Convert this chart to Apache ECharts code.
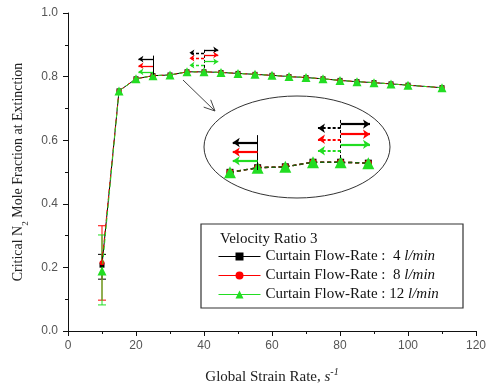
<!DOCTYPE html>
<html>
<head>
<meta charset="utf-8">
<script src="https://cdn.jsdelivr.net/npm/echarts@6/dist/echarts.min.js"></script>
<style>html,body{margin:0;padding:0;background:#fff}#c{width:488px;height:385px}</style>
</head>
<body>
<div id="c"></div>
<script>
// ---- data ----
const xVals  = [10, 15, 20, 25, 30, 35, 40, 45, 50, 55, 60, 65, 70, 75, 80, 85, 90, 95, 100, 110];
const yBlack = [0.207, 0.755, 0.793, 0.803, 0.805, 0.815, 0.815, 0.813, 0.810, 0.807, 0.804, 0.800, 0.797, 0.793, 0.788, 0.784, 0.781, 0.777, 0.773, 0.765];
const yRed   = [0.215, 0.755, 0.793, 0.803, 0.805, 0.815, 0.815, 0.813, 0.810, 0.807, 0.804, 0.800, 0.797, 0.793, 0.788, 0.784, 0.781, 0.777, 0.773, 0.765];
const yGreen = [0.189, 0.755, 0.793, 0.803, 0.805, 0.815, 0.815, 0.813, 0.810, 0.807, 0.804, 0.800, 0.797, 0.793, 0.788, 0.784, 0.781, 0.777, 0.773, 0.765];
// error bars at x = 10: [x, low, high]
const errBlack = [[10, 0.163, 0.241]];
const errRed   = [[10, 0.097, 0.331]];
const errGreen = [[10, 0.082, 0.302]];
const seriesNames = ['Curtain Flow-Rate :  4 l/min', 'Curtain Flow-Rate :  8 l/min', 'Curtain Flow-Rate : 12 l/min'];
const legendTitle = 'Velocity Ratio 3';
const xTicks = [0, 20, 40, 60, 80, 100, 120];
const yTicks = [0.0, 0.2, 0.4, 0.6, 0.8, 1.0];
// inset range (magnified portion)
const insetFrom = 20, insetTo = 45;
// annotation arrows (data units) : main chart
const mainLeft  = {x: 25, vTop: 0.866, vBottom: 0.806, ys: [0.855, 0.834, 0.815], toX: 20.7};
const mainRight = {x: 40, vTop: 0.884, vBottom: 0.821, rightYs: [0.884, 0.868, 0.847], rightTo: 44.2, leftYs: [0.875, 0.858, 0.836], leftTo: 35.7};
// annotation arrows (data units) : inset
const insLeft  = {x: 25, vTop: 0.874, vBottom: 0.798, ys: [0.858, 0.837, 0.818], toX: 20.5};
const insRight = {x: 40, vTop: 0.907, vBottom: 0.820, rightYs: [0.898, 0.876, 0.854], rightTo: 45.3, leftYs: [0.889, 0.865, 0.840], leftTo: 35.9};

const COLORS = ['#000000', '#ff0000', '#22dd22'];
const SERIF = 'Liberation Serif';
const SANS = 'Liberation Sans';

function pairs(ys) { return xVals.map((x, i) => [x, ys[i]]); }
function insetPairs(ys) { return pairs(ys).filter(p => p[0] >= insetFrom && p[0] <= insetTo); }

function arrowLine(x0, y, x1, color, dashed, width, size) {
  return [
    {coord: [x0, y], symbol: 'none', lineStyle: {color: color, type: dashed ? [3, 2] : 'solid', width: width}},
    {coord: [x1, y], symbol: 'arrow', symbolSize: size}
  ];
}
function vline(x, y0, y1, dashed, width) {
  return [
    {coord: [x, y0], symbol: 'none', lineStyle: {color: '#000', type: dashed ? [3, 2] : 'solid', width: width}},
    {coord: [x, y1], symbol: 'none'}
  ];
}
function annoData(L, R, w, size) {
  const d = [];
  d.push(vline(L.x, L.vTop, L.vBottom, false, 1));
  L.ys.forEach((y, i) => d.push(arrowLine(L.x, y, L.toX, COLORS[i], false, w, size)));
  d.push(vline(R.x, R.vTop, R.vBottom, true, 1));
  R.rightYs.forEach((y, i) => d.push(arrowLine(R.x, y, R.rightTo, COLORS[i], false, w, size)));
  R.leftYs.forEach((y, i) => d.push(arrowLine(R.x, y, R.leftTo, COLORS[i], true, w, size)));
  return d;
}

function errSeries(data, color) {
  return {
    type: 'custom', xAxisIndex: 0, yAxisIndex: 0, silent: true, z: 1,
    data: data,
    renderItem: function (params, api) {
      const x = api.value(0), lo = api.value(1), hi = api.value(2);
      const p1 = api.coord([x, hi]), p2 = api.coord([x, lo]);
      const hw = 4;
      const st = {stroke: color, lineWidth: 1};
      return {type: 'group', children: [
        {type: 'line', shape: {x1: p1[0], y1: p1[1], x2: p2[0], y2: p2[1]}, style: st},
        {type: 'line', shape: {x1: p1[0] - hw, y1: p1[1], x2: p1[0] + hw, y2: p1[1]}, style: st},
        {type: 'line', shape: {x1: p2[0] - hw, y1: p2[1], x2: p2[0] + hw, y2: p2[1]}, style: st}
      ]};
    }
  };
}

const symbols = ['rect', 'circle', 'triangle'];
const sizes = [5, 5, 9];
const insetSizes = [7, 7, 12];
const ys = [yBlack, yRed, yGreen];
const series = [];
[errBlack, errRed, errGreen].forEach((e, i) => series.push(errSeries(e, COLORS[i])));
for (let i = 0; i < 3; i++) {
  series.push({
    name: seriesNames[i], type: 'line', xAxisIndex: 0, yAxisIndex: 0,
    data: pairs(ys[i]), symbol: symbols[i], symbolSize: sizes[i],
    itemStyle: {color: COLORS[i]},
    lineStyle: {color: COLORS[i], width: 1, type: i === 0 ? 'solid' : [4, 3]},
    z: 2 + i
  });
}
for (let i = 0; i < 3; i++) {
  series.push({
    name: seriesNames[i], type: 'line', xAxisIndex: 1, yAxisIndex: 1,
    data: insetPairs(ys[i]), symbol: symbols[i], symbolSize: insetSizes[i],
    itemStyle: {color: COLORS[i]},
    lineStyle: {color: i === 2 ? '#116611' : COLORS[i], width: 1.5, type: [4, 3]},
    z: 2 + i
  });
}
// annotation carriers
series.push({
  type: 'line', xAxisIndex: 0, yAxisIndex: 0, data: [], silent: true,
  markLine: {silent: true, animation: false, symbol: ['none', 'none'], label: {show: false},
    emphasis: {disabled: true}, data: annoData(mainLeft, mainRight, 1.3, [5, 5])}
});
series.push({
  type: 'line', xAxisIndex: 1, yAxisIndex: 1, data: [], silent: true,
  markLine: {silent: true, animation: false, symbol: ['none', 'none'], label: {show: false},
    emphasis: {disabled: true}, data: annoData(insLeft, insRight, 2.2, [7, 7])}
});

const chart = echarts.init(document.getElementById('c'), null, {renderer: 'canvas'});
chart.setOption({
  animation: false,
  backgroundColor: '#fff',
  textStyle: {fontFamily: SERIF},
  grid: [
    {left: 68, right: 12, top: 13, bottom: 54, containLabel: false, outerBoundsMode: 'none'},
    {left: 202.3, top: 118.6, width: 193.7, height: 59.7, containLabel: false, outerBoundsMode: 'none'}
  ],
  xAxis: [
    {type: 'value', gridIndex: 0, min: xTicks[0], max: xTicks[xTicks.length - 1], interval: xTicks[1] - xTicks[0],
      name: '{a|Global Strain Rate, }{s|s}{sup|-1}', nameLocation: 'middle', nameGap: 36,
      nameTextStyle: {rich: {
        a: {fontFamily: SERIF, fontSize: 15, color: '#222', lineHeight: 18, verticalAlign: 'bottom'},
        s: {fontFamily: SERIF, fontSize: 15, fontStyle: 'italic', color: '#222', lineHeight: 18, verticalAlign: 'bottom'},
        sup: {fontFamily: SERIF, fontSize: 10, fontStyle: 'italic', color: '#222', lineHeight: 18, verticalAlign: 'top'}
      }},
      axisLine: {show: true, onZero: false, lineStyle: {color: '#111', width: 1}},
      axisTick: {show: true, inside: false, length: 5, lineStyle: {color: '#111'}},
      minorTick: {show: true, splitNumber: 2, length: 3, lineStyle: {color: '#111'}},
      splitLine: {show: false},
      axisLabel: {fontFamily: SANS, fontSize: 12, color: '#555', margin: 9}
    },
    {type: 'value', gridIndex: 1, min: 15, max: 50, show: false}
  ],
  yAxis: [
    {type: 'value', gridIndex: 0, min: yTicks[0], max: yTicks[yTicks.length - 1], interval: 0.2,
      name: '{a|Critical N}{sub|2}{a| Mole Fraction at Extinction}', nameLocation: 'middle', nameGap: 38, nameRotate: 90,
      nameTextStyle: {rich: {
        a: {fontFamily: SERIF, fontSize: 14, color: '#222', lineHeight: 19, verticalAlign: 'top'},
        sub: {fontFamily: SERIF, fontSize: 9, color: '#222', lineHeight: 19, verticalAlign: 'bottom'}
      }},
      axisLine: {show: true, onZero: false, lineStyle: {color: '#111', width: 1}},
      axisTick: {show: true, inside: false, length: 5, lineStyle: {color: '#111'}},
      minorTick: {show: true, splitNumber: 2, length: 3, lineStyle: {color: '#111'}},
      splitLine: {show: false},
      axisLabel: {fontFamily: SANS, fontSize: 12, color: '#555', margin: 10, formatter: v => v.toFixed(1)}
    },
    {type: 'value', gridIndex: 1, min: 0.78, max: 0.91, show: false}
  ],
  legend: {
    data: seriesNames.map((n, i) => ({name: n, itemStyle: {color: COLORS[i]}, symbolSize: [7, 8, 10][i]})),
    orient: 'vertical', left: 218, top: 248, itemGap: 2,
    itemWidth: 42, itemHeight: 10, selectedMode: false, padding: 0,
    lineStyle: {type: 'solid', width: 1},
    textStyle: {fontFamily: SERIF, fontSize: 15, color: '#111', lineHeight: 17,
      rich: {
        n: {fontFamily: SERIF, fontSize: 15, color: '#111', lineHeight: 17},
        i: {fontFamily: SERIF, fontSize: 15, fontStyle: 'italic', color: '#111', lineHeight: 17}
      }},
    formatter: name => '{n|' + name.replace('l/min', '}{i|l/min}')
  },
  graphic: [
    {type: 'rect', shape: {x: 201, y: 224, width: 262, height: 84}, style: {fill: 'none', stroke: '#333', lineWidth: 1.2}, z: 10},
    {type: 'text', x: 220, y: 239, style: {text: legendTitle, font: '15px "Liberation Serif"', fill: '#111', verticalAlign: 'middle'}, z: 10},
    {type: 'ellipse', shape: {cx: 297, cy: 147, rx: 93, ry: 51}, style: {fill: 'none', stroke: '#333', lineWidth: 1}, z: 10},
    {type: 'line', shape: {x1: 183, y1: 80, x2: 215, y2: 111}, style: {stroke: '#444', lineWidth: 1}, z: 10},
    {type: 'polyline', shape: {points: [[210.7, 99.8], [215, 111], [203.7, 107.1]]}, style: {fill: 'none', stroke: '#444', lineWidth: 1}, z: 10}
  ],
  series: series
});
</script>
</body>
</html>
